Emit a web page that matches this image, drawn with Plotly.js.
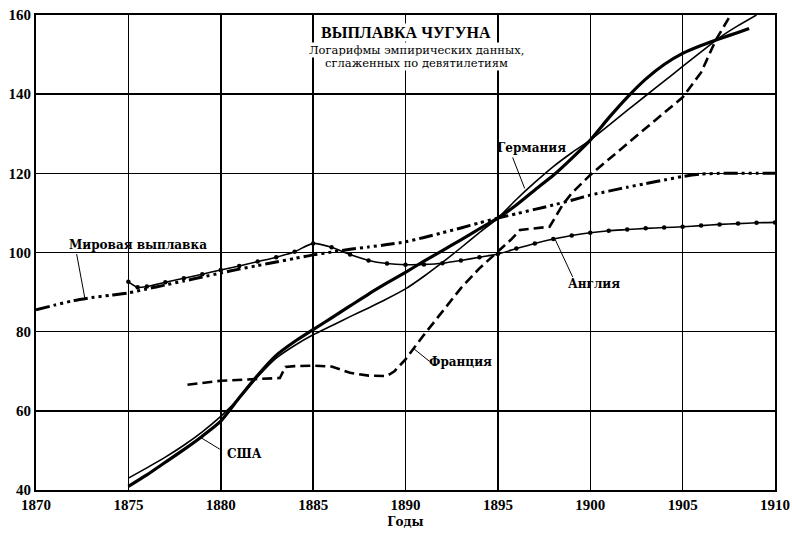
<!DOCTYPE html>
<html>
<head>
<meta charset="utf-8">
<script src="https://cdn.plot.ly/plotly-3.0.1.min.js"></script>
<style>
  html, body { margin: 0; padding: 0; background: #fff; }
  #chart { width: 792px; height: 535px; }
</style>
</head>
<body>
<div id="chart"></div>
<script>
// ---------- DATA ----------
const xTickVals = [1870, 1875, 1880, 1885, 1890, 1895, 1900, 1905, 1910];
const yTickVals = [40, 60, 80, 100, 120, 140, 160];

const worldYears = [1870,1871,1872,1873,1874,1875,1876,1877,1878,1879,1880,1881,1882,1883,1884,1885,1886,1887,1888,1889,1890,1891,1892,1893,1894,1895,1896,1897,1898,1899,1900,1901,1902,1903,1904,1905,1906,1907,1908,1909,1910];
const worldValues = [85.5,86.7,87.8,88.6,89.2,89.8,90.8,91.8,92.8,93.8,94.8,95.8,96.7,97.6,98.5,99.4,100.1,100.8,101.4,102.0,102.7,103.8,105.0,106.2,107.5,108.7,109.8,110.9,112.0,113.2,114.5,115.5,116.5,117.4,118.3,119.2,119.8,120.0,120.0,120.0,120.0];

const englandYears = [1875,1875.5,1876,1877,1878,1879,1880,1881,1882,1883,1884,1885,1886,1887,1888,1889,1890,1891,1892,1893,1894,1895,1896,1897,1898,1899,1900,1901,1902,1903,1904,1905,1906,1907,1908,1909,1910];
const englandValues = [92.6,91.2,91.4,92.5,93.5,94.5,95.6,96.6,97.7,98.8,100.2,102.3,101.3,99.5,98.0,97.2,96.9,97.0,97.3,98.0,98.8,99.6,101.0,102.3,103.4,104.3,105.0,105.5,105.8,106.1,106.3,106.5,106.8,107.1,107.3,107.5,107.6];

const germanyYears = [1875,1876,1877,1878,1879,1880,1881,1882,1883,1884,1885,1886,1887,1888,1889,1890,1891,1892,1893,1894,1895,1896,1897,1898,1899,1900,1901,1902,1903,1904,1905,1906,1907,1908,1909];
const germanyValues = [43.0,45.6,48.3,51.3,54.7,58.6,63.2,68.6,73.3,76.5,79.2,81.5,83.8,86.0,88.3,90.8,94.0,97.5,101.2,105.0,108.7,113.4,117.7,121.7,125.2,128.4,132.1,135.9,139.6,143.3,147.0,150.7,154.3,157.3,160.0];

const usaYears = [1875,1876,1877,1878,1879,1880,1881,1882,1883,1884,1885,1886,1887,1888,1889,1890,1891,1892,1893,1894,1895,1896,1897,1898,1899,1900,1901,1902,1903,1904,1905,1906,1907,1908,1908.6];
const usaValues = [40.9,43.8,47.0,50.2,53.6,57.4,63.3,69.0,74.0,77.5,80.5,83.5,86.5,89.5,92.3,95.0,97.8,100.5,103.2,106.0,108.7,112.0,115.8,119.5,123.8,128.4,134.0,139.2,143.8,147.5,150.3,152.3,154.0,155.6,156.6];

const franceYears = [1878.2,1880,1883.2,1883.5,1884,1885,1886,1887,1888,1889,1889.4,1890,1891,1892,1893,1894,1895,1895.7,1896.2,1897.8,1898.5,1899,1900,1901,1902,1903,1904,1905,1906,1906.8,1907.6];
const franceValues = [66.6,67.6,68.3,71.1,71.3,71.4,71.2,69.6,68.9,68.8,70.0,73.0,79.2,85.0,91.0,96.0,100.3,103.2,105.7,106.5,112.0,115.0,119.6,123.6,127.5,131.4,135.3,139.2,145.5,153.7,160.0];

const seriesNames = ["Мировая выплавка", "Англия", "Германия", "США", "Франция"];
const titleText = "ВЫПЛАВКА ЧУГУНА";
const subtitleLines = ["Логарифмы эмпирических данных,", "сглаженных по девятилетиям"];
const xAxisTitle = "Годы";

// ---------- LABEL PLACEMENT (text position + leader line, in axis units) ----------
const labelPlacement = [
  {text: seriesNames[0], x: 1875.5, y: 101.9, lx0: 1872.2, ly0: 99.6, lx1: 1872.65, ly1: 88.3},
  {text: seriesNames[1], x: 1900.2, y: 92.1,  lx0: 1899.05, ly0: 93.8, lx1: 1898.1, ly1: 103.3},
  {text: seriesNames[2], x: 1896.8, y: 126.4, lx0: 1895.8, ly0: 124.0, lx1: 1896.45, ly1: 116.2},
  {text: seriesNames[4], x: 1892.95, y: 72.4, lx0: 1891.3, ly0: 72.5, lx1: 1890.45, ly1: 75.7},
  {text: seriesNames[3], x: 1881.3, y: 49.1,  lx0: 1879.95, ly0: 50.3, lx1: 1878.9, ly1: 53.3}
];

const SERIF = "Liberation Serif, Times New Roman, serif";
const WIDE_SERIF = "DejaVu Serif, serif";

const traces = [
  {x: worldYears, y: worldValues, name: seriesNames[0], type: "scatter", mode: "lines",
   line: {color: "#000", width: 3, dash: "14px,4px,3px,4px,3px,4px,3px,4px", shape: "spline", smoothing: 0.6}},
  {x: englandYears, y: englandValues, name: seriesNames[1], type: "scatter", mode: "lines+markers",
   line: {color: "#000", width: 1.6, shape: "spline", smoothing: 0.6},
   marker: {color: "#000", size: 4.5}},
  {x: germanyYears, y: germanyValues, name: seriesNames[2], type: "scatter", mode: "lines",
   line: {color: "#000", width: 1.6, shape: "spline", smoothing: 0.6}},
  {x: usaYears, y: usaValues, name: seriesNames[3], type: "scatter", mode: "lines",
   line: {color: "#000", width: 3.2, shape: "spline", smoothing: 0.6}},
  {x: franceYears, y: franceValues, name: seriesNames[4], type: "scatter", mode: "lines",
   line: {color: "#000", width: 2.6, dash: "10px,5px"}}
];

const annotations = [
  {text: "<b>" + titleText + "</b>", x: 1890.03, y: 155.6, xref: "x", yref: "y", showarrow: false,
   font: {family: SERIF, size: 16, color: "#000"}, bgcolor: "#fff", borderpad: 0},
  {text: subtitleLines[0], x: 1890.6, y: 151.1, xref: "x", yref: "y", showarrow: false,
   font: {family: WIDE_SERIF, size: 11.5, color: "#000"}, bgcolor: "#fff", borderpad: 0},
  {text: subtitleLines[1], x: 1890.6, y: 147.9, xref: "x", yref: "y", showarrow: false,
   font: {family: WIDE_SERIF, size: 11.5, color: "#000"}, bgcolor: "#fff", borderpad: 0}
];
const shapes = [];
labelPlacement.forEach(l => {
  annotations.push({text: "<b>" + l.text + "</b>", x: l.x, y: l.y, xref: "x", yref: "y",
    showarrow: false, font: {family: WIDE_SERIF, size: 12, color: "#000"}});
  shapes.push({type: "line", xref: "x", yref: "y", x0: l.lx0, y0: l.ly0, x1: l.lx1, y1: l.ly1,
    line: {color: "#000", width: 1}});
});

const layout = {
  width: 792, height: 535, autosize: false,
  margin: {l: 36, r: 17, t: 15, b: 45, pad: 0},
  paper_bgcolor: "#fff", plot_bgcolor: "#fff",
  showlegend: false,
  font: {family: SERIF, color: "#000"},
  xaxis: {
    range: [1870, 1910], tickvals: xTickVals, ticktext: xTickVals.map(String),
    showgrid: true, gridcolor: "#000", gridwidth: 1.5,
    showline: true, linecolor: "#000", linewidth: 2, mirror: true,
    ticks: "", zeroline: false,
    tickfont: {family: SERIF, size: 15, color: "#000", weight: "bold"},
    title: {text: "<b>" + xAxisTitle + "</b>", font: {family: WIDE_SERIF, size: 12, color: "#000"}, standoff: 6}
  },
  yaxis: {
    range: [40, 160], tickvals: yTickVals, ticktext: yTickVals.map(String),
    showgrid: true, gridcolor: "#000", gridwidth: 1.5,
    showline: true, linecolor: "#000", linewidth: 2, mirror: true,
    ticks: "", zeroline: false,
    tickfont: {family: SERIF, size: 15, color: "#000", weight: "bold"}
  },
  annotations: annotations,
  shapes: shapes
};

Plotly.newPlot("chart", traces, layout, {displayModeBar: false, staticPlot: true});
</script>
</body>
</html>
